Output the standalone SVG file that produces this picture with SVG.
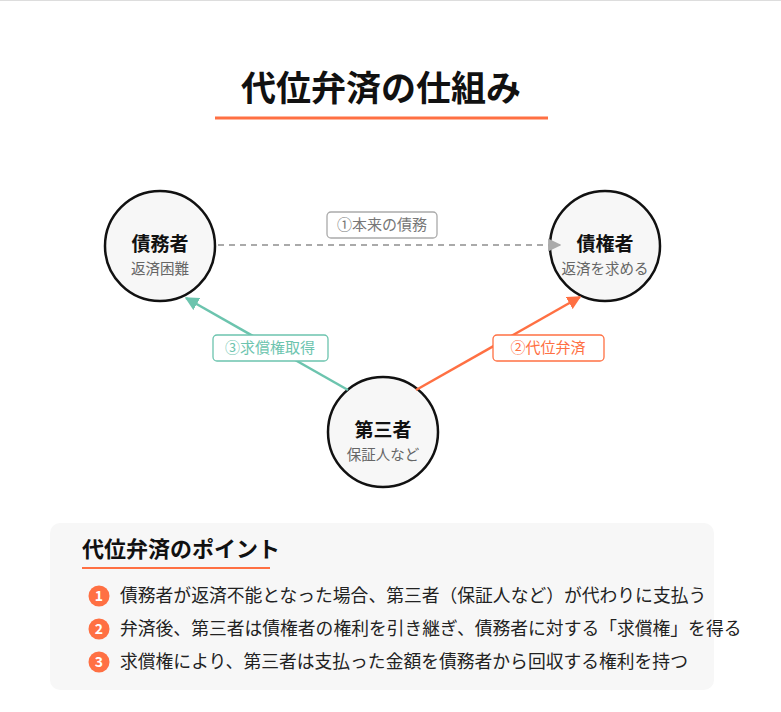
<svg xmlns="http://www.w3.org/2000/svg" width="781" height="712" viewBox="0 0 781 712">
<style>
text{font-family:"Noto Sans CJK JP","Noto Sans",sans-serif}
.node circle{fill:#f7f7f7;stroke:#111;stroke-width:2.5}
.nt{font-size:19px;font-weight:700;fill:#111;text-anchor:middle}
.ns{font-size:14.5px;fill:#666;text-anchor:middle}
.lb{fill:#fff;stroke-width:1.3}
.lt{font-size:15px;text-anchor:middle}
.it{font-size:17.8px;fill:#222}
.nb{fill:#FF7043}
.nn{font-size:14px;font-weight:700;fill:#fff;text-anchor:middle}
</style>
<defs>
<marker id="ag" viewBox="0 0 10 10" refX="9" refY="5" markerWidth="6" markerHeight="6" orient="auto"><path d="M0,0L10,5L0,10z" fill="#aaa"/></marker>
<marker id="at" viewBox="0 0 10 10" refX="9" refY="5" markerWidth="5.5" markerHeight="5.5" orient="auto"><path d="M0,0L10,5L0,10z" fill="#6cc4ae"/></marker>
<marker id="ao" viewBox="0 0 10 10" refX="9" refY="5" markerWidth="5.5" markerHeight="5.5" orient="auto"><path d="M0,0L10,5L0,10z" fill="#FF7043"/></marker>
</defs>
<rect width="781" height="712" fill="#fff"/>
<line x1="0" y1="0.5" x2="781" y2="0.5" stroke="#ddd"/>
<text x="381" y="101" font-size="35" font-weight="700" text-anchor="middle" fill="#111">代位弁済の仕組み</text>
<line x1="215" y1="118" x2="548" y2="118" stroke="#FF7043" stroke-width="3"/>
<g id="debtor" class="node"><circle cx="160" cy="246" r="55"/><text class="nt" x="160" y="251">債務者</text><text class="ns" x="160" y="274">返済困難</text></g>
<g id="creditor" class="node"><circle cx="605" cy="246" r="55"/><text class="nt" x="605" y="251">債権者</text><text class="ns" x="605" y="274">返済を求める</text></g>
<g id="third" class="node"><circle cx="383" cy="432" r="55"/><text class="nt" x="383" y="437">第三者</text><text class="ns" x="383" y="460">保証人など</text></g>
<g id="connectors">
<line x1="218" y1="245" x2="560" y2="245" stroke="#aaa" stroke-width="2.2" stroke-dasharray="6,5" marker-end="url(#ag)"/>
<line x1="348" y1="390" x2="186" y2="298" stroke="#6cc4ae" stroke-width="2.5" marker-end="url(#at)"/>
<line x1="416" y1="390" x2="580" y2="297" stroke="#FF7043" stroke-width="2.5" marker-end="url(#ao)"/>
<rect class="lb" x="327" y="212" width="110" height="26" rx="4" stroke="#aaa"/>
<text class="lt" x="382" y="230" fill="#777">①本来の債務</text>
<rect class="lb" x="213" y="335" width="115" height="26" rx="4" stroke="#6cc4ae"/>
<text class="lt" x="270" y="353" fill="#6cc4ae">③求償権取得</text>
<rect class="lb" x="493" y="335" width="111" height="26" rx="4" stroke="#FF7043"/>
<text class="lt" x="548" y="353" fill="#FF7043">②代位弁済</text>
</g>
<g id="points">
<rect x="50" y="523" width="664" height="167" rx="10" fill="#f7f7f7"/>
<text x="82" y="557" font-size="22" font-weight="700" fill="#111">代位弁済のポイント</text>
<line x1="82" y1="568" x2="270" y2="568" stroke="#FF7043" stroke-width="2"/>
<circle class="nb" cx="99" cy="596" r="10.5"/><text class="nn" x="99" y="601">1</text>
<text class="it" x="120" y="602">債務者が返済不能となった場合、第三者（保証人など）が代わりに支払う</text>
<circle class="nb" cx="99" cy="629" r="10.5"/><text class="nn" x="99" y="634">2</text>
<text class="it" x="120" y="635">弁済後、第三者は債権者の権利を引き継ぎ、債務者に対する「求償権」を得る</text>
<circle class="nb" cx="99" cy="662" r="10.5"/><text class="nn" x="99" y="667">3</text>
<text class="it" x="120" y="668">求償権により、第三者は支払った金額を債務者から回収する権利を持つ</text>
</g>
</svg>
